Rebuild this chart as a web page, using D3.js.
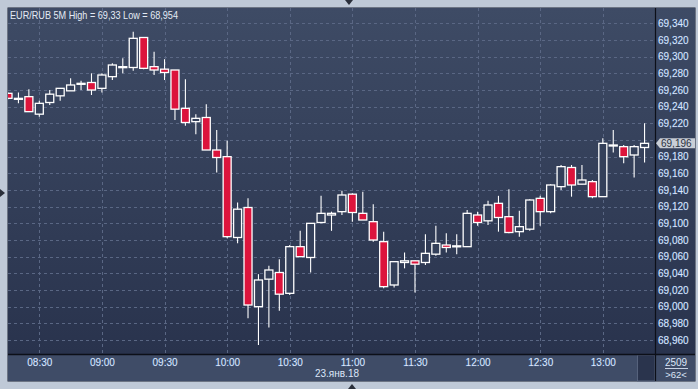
<!DOCTYPE html>
<html><head><meta charset="utf-8">
<script src="https://cdn.jsdelivr.net/npm/d3@7"></script>
<style>
html,body{margin:0;padding:0;background:#bfc9d7;}
svg{display:block;}
text{font-family:"Liberation Sans",Arial,sans-serif;}
</style></head>
<body>
<svg id="chart" width="698" height="389"></svg>
<script>
// ---- data ----
const title = "EUR/RUB 5M High = 69,33 Low = 68,954";
const dateLabel = "23.янв.18";
const times = ["08:15","08:20","08:25","08:30","08:35","08:40","08:45","08:50","08:55",
"09:00","09:05","09:10","09:15","09:20","09:25","09:30","09:35","09:40","09:45","09:50","09:55",
"10:00","10:05","10:10","10:15","10:20","10:25","10:30","10:35","10:40","10:45","10:50","10:55",
"11:00","11:05","11:10","11:15","11:20","11:25","11:30","11:35","11:40","11:45","11:50","11:55",
"12:00","12:05","12:10","12:15","12:20","12:25","12:30","12:35","12:40","12:45","12:50","12:55",
"13:00","13:05","13:10","13:15","13:20"];
const open  = [69.256,69.250,69.252,69.231,69.245,69.253,69.259,69.267,69.269,
69.262,69.276,69.288,69.287,69.323,69.288,69.285,69.284,69.238,69.222,69.227,69.188,
69.180,69.083,69.119,69.000,69.033,69.041,69.016,69.072,69.059,69.101,69.110,69.114,
69.135,69.112,69.102,69.078,69.026,69.053,69.055,69.053,69.063,69.074,69.072,69.072,
69.110,69.103,69.124,69.108,69.090,69.093,69.130,69.114,69.144,69.167,69.147,69.150,
69.132,69.193,69.192,69.182,69.191];
const high  = [69.257,69.257,69.261,69.247,69.260,69.262,69.274,69.271,69.280,
69.280,69.292,69.298,69.330,69.323,69.306,69.297,69.284,69.273,69.231,69.243,69.212,
69.199,69.125,69.130,69.039,69.049,69.057,69.074,69.091,69.100,69.133,69.114,69.139,
69.136,69.138,69.123,69.090,69.054,69.065,69.055,69.087,69.097,69.088,69.087,69.116,
69.114,69.127,69.133,69.141,69.115,69.129,69.133,69.147,69.170,69.170,69.170,69.152,
69.202,69.212,69.194,69.194,69.220];
const low   = [69.249,69.244,69.234,69.228,69.242,69.247,69.259,69.260,69.254,
69.257,69.272,69.280,69.283,69.285,69.278,69.272,69.224,69.217,69.207,69.188,69.161,
69.082,69.076,68.986,68.954,68.975,68.995,69.014,69.060,69.041,69.100,69.091,69.110,
69.102,69.104,69.078,69.022,69.023,69.046,69.017,69.050,69.061,69.065,69.063,69.072,
69.097,69.098,69.090,69.088,69.084,69.091,69.097,69.112,69.140,69.132,69.147,69.130,
69.132,69.185,69.172,69.155,69.173];
const close = [69.250,69.250,69.234,69.244,69.255,69.262,69.266,69.268,69.260,
69.278,69.290,69.288,69.322,69.286,69.284,69.281,69.237,69.221,69.226,69.188,69.179,
69.084,69.117,69.002,69.032,69.044,69.015,69.072,69.060,69.100,69.112,69.112,69.134,
69.113,69.104,69.080,69.024,69.054,69.055,69.051,69.064,69.076,69.071,69.073,69.112,
69.101,69.122,69.107,69.089,69.096,69.128,69.114,69.146,69.168,69.146,69.152,69.132,
69.196,69.194,69.180,69.192,69.196];
const yTicks = [68.96,68.98,69.00,69.02,69.04,69.06,69.08,69.10,69.12,69.14,69.16,69.18,
69.20,69.22,69.24,69.26,69.28,69.30,69.32,69.34];
const xTicks = ["08:30","09:00","09:30","10:00","10:30","11:00","11:30","12:00","12:30","13:00"];
const lastPrice = 69.196;
const barCount = "2509";
const visibleCount = ">62<";

// ---- layout ----
const L = 8, T = 8, R = 655, B = 354, PR = 695, PB = 381;
const svg = d3.select("#chart");
const parse = d3.timeParse("%Y-%m-%d %H:%M");
const t = s => parse("2018-01-23 " + s);

const x = d3.scaleTime().domain([t("08:15"), t("13:25")]).range([L, R]);
const y = d3.scaleLinear().domain([68.9432, 69.3584]).range([B, T]);

const defs = svg.append("defs");
const g1 = defs.append("linearGradient").attr("id","bg").attr("x1",0).attr("y1",0).attr("x2",0).attr("y2",1);
g1.append("stop").attr("offset","0%").attr("stop-color","#3e4b65");
g1.append("stop").attr("offset","100%").attr("stop-color","#29334d");
defs.append("clipPath").attr("id","clip").append("rect").attr("x",L).attr("y",T).attr("width",R-L).attr("height",B-T);

// outer frame
svg.append("rect").attr("x",0).attr("y",0).attr("width",698).attr("height",389).attr("fill","#bfc9d7");
svg.append("rect").attr("x",L-0.5).attr("y",T-0.5).attr("width",PR-L+1).attr("height",PB-T+1).attr("fill","#1d2333");
svg.append("rect").attr("x",L).attr("y",T).attr("width",PR-L).attr("height",B-T).attr("fill","url(#bg)");
svg.append("rect").attr("x",L).attr("y",B).attr("width",PR-L).attr("height",PB-B).attr("fill","#3f4c67");
svg.append("rect").attr("x",637.5).attr("y",B+1).attr("width",R-637.5).attr("height",PB-B-1).attr("fill","#2a344d").attr("stroke","#56627c").attr("stroke-width",1);

// grid
const grid = svg.append("g").attr("clip-path","url(#clip)");
grid.selectAll("line.h").data(yTicks).join("line")
  .attr("x1",L).attr("x2",R)
  .attr("y1",d=>Math.round(y(d))+0.5).attr("y2",d=>Math.round(y(d))+0.5)
  .attr("stroke","#5a6784").attr("stroke-dasharray","3,3").attr("stroke-width",1);
grid.selectAll("line.v").data(xTicks).join("line")
  .attr("y1",T).attr("y2",B)
  .attr("x1",d=>Math.round(x(t(d)))+0.5).attr("x2",d=>Math.round(x(t(d)))+0.5)
  .attr("stroke","#5a6784").attr("stroke-dasharray","3,3").attr("stroke-width",1);

svg.append("line").attr("x1",R+0.5).attr("x2",R+0.5).attr("y1",T).attr("y2",PB).attr("stroke","#0c0f18").attr("stroke-width",1.2);
svg.append("line").attr("x1",L).attr("x2",PR).attr("y1",B+0.5).attr("y2",B+0.5).attr("stroke","#0c0f18").attr("stroke-width",1.5);

// candles
const data = times.map((s,i)=>({t:t(s),o:open[i],h:high[i],l:low[i],c:close[i]}));
const cg = svg.append("g").attr("clip-path","url(#clip)");
const bw = 8;
const c = cg.selectAll("g.c").data(data).join("g");
c.append("line")
  .attr("x1",d=>x(d.t)).attr("x2",d=>x(d.t))
  .attr("y1",d=>y(d.h)).attr("y2",d=>y(d.l))
  .attr("stroke","#ffffff").attr("stroke-width",1.1);
c.append("rect")
  .attr("x",d=>x(d.t)-bw/2).attr("width",bw)
  .attr("y",d=>y(Math.max(d.o,d.c)))
  .attr("height",d=>Math.max(1,Math.abs(y(d.o)-y(d.c))))
  .attr("fill",d=>d.c<d.o?"#dc143c":"#34405a")
  .attr("stroke","#ffffff").attr("stroke-width",1.3);

// title
svg.append("text").attr("x",10).attr("y",18.5).attr("fill","#e4eaf4").attr("font-size",10.5)
  .attr("textLength",168).attr("lengthAdjust","spacingAndGlyphs").text(title);

// y axis labels (the one hidden under the last-price marker is left out, as in the reference)
const ly = y(lastPrice);
const fmt = v => d3.format(".3f")(v).replace(".",",");
const ya = svg.append("g").attr("transform",`translate(${R},0)`)
  .call(d3.axisRight(y).tickValues(yTicks.filter(v=>Math.abs(y(v)-ly)>8)).tickSize(0).tickPadding(3).tickFormat(fmt));
ya.select(".domain").remove();
ya.selectAll("text").attr("fill","#dce6f8").attr("font-size",10)
  .attr("font-family","'Liberation Sans',Arial,sans-serif")
  .attr("stroke","#4f7cc4").attr("stroke-width",0.6).attr("stroke-opacity",0.6).style("paint-order","stroke");

// x axis labels
const xa = svg.append("g").attr("transform",`translate(0,${B})`)
  .call(d3.axisBottom(x).tickValues(xTicks.map(t)).tickSize(0).tickPadding(5).tickFormat(d3.timeFormat("%H:%M")));
xa.select(".domain").remove();
xa.selectAll("text").attr("fill","#dce6f8").attr("font-size",10)
  .attr("font-family","'Liberation Sans',Arial,sans-serif")
  .attr("stroke","#4f7cc4").attr("stroke-width",0.6).attr("stroke-opacity",0.6).style("paint-order","stroke");
svg.append("text").attr("x",337).attr("y",377).attr("text-anchor","middle").attr("fill","#dce6f8").attr("font-size",10).text(dateLabel);

// last price marker
svg.append("path").attr("d",`M${R+1},${ly} L${R+5},${ly-5} L${PR},${ly-5} L${PR},${ly+5} L${R+5},${ly+5} Z`).attr("fill","#c9ced6");
svg.append("text").attr("x",R+6).attr("y",ly+4).attr("fill","#2a3040").attr("font-size",10).text(fmt(lastPrice));

// bottom-right counter
svg.append("text").attr("x",676).attr("y",366).attr("text-anchor","middle").attr("fill","#dce6f8").attr("font-size",10).text(barCount);
svg.append("line").attr("x1",665).attr("x2",688).attr("y1",368.5).attr("y2",368.5).attr("stroke","#c8d2e4").attr("stroke-width",1);
svg.append("text").attr("x",676).attr("y",378).attr("text-anchor","middle").attr("fill","#dce6f8").attr("font-size",9.5).text(visibleCount);

// navigation triangles
svg.append("path").attr("d","M345,0 L353,0 L349,5 Z").attr("fill","#2a2f3a");
svg.append("path").attr("d","M0,189 L0,197 L5,193 Z").attr("fill","#2a2f3a");
svg.append("path").attr("d","M348,389 L356,389 L352,384 Z").attr("fill","#2a2f3a");
</script>
</body></html>
